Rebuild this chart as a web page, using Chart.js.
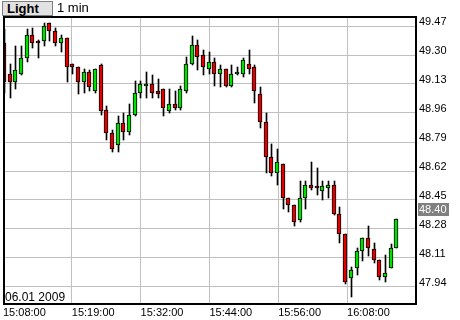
<!DOCTYPE html>
<html>
<head>
<meta charset="utf-8">
<script src="https://cdn.jsdelivr.net/npm/chart.js@4.4.1/dist/chart.umd.min.js"></script>
<style>
    body { margin: 0; background: #fff; }
    #quadro { position: relative; width: 460px; height: 320px; }
    #botao-tema {
        position: absolute; left: 2px; top: 1px; width: 51px; height: 15px;
        box-sizing: border-box; background: #e2e2e2; border: 1px solid #808080;
        font: bold 13px 'Liberation Sans', Arial, sans-serif; line-height: 13px;
        padding-left: 4px; color: #000;
    }
    #periodo {
        position: absolute; left: 57px; top: 1px;
        font: 13px 'Liberation Sans', Arial, sans-serif; line-height: 14px; color: #000;
    }
</style>
</head>
<body>
<div id="quadro">
    <canvas id="grafico" width="460" height="320"></canvas>
    <div id="botao-tema">Light</div>
    <div id="periodo">1 min</div>
</div>
<script>
// Dados do gráfico (velas de 1 minuto)
const rotulosTempo = ['15:08:00', '15:19:00', '15:32:00', '15:44:00', '15:56:00', '16:08:00'];
const ticksPreco = [47.94, 48.11, 48.28, 48.45, 48.62, 48.79, 48.96, 49.13, 49.30, 49.47];

const abertura = [
    49.37, 49.19, 49.14, 49.19, 49.28, 49.42, 49.37, 49.38, 49.49, 49.44,
    49.37, 49.40, 49.25, 49.23, 49.14, 49.20, 49.09, 49.24, 48.98, 48.84,
    48.77, 48.90, 48.85, 48.95, 49.08, 49.12, 49.13, 49.09, 49.10, 48.97,
    49.01, 48.99, 49.09, 49.25, 49.36, 49.30, 49.22, 49.26, 49.19, 49.22,
    49.12, 49.19, 49.19, 49.25, 49.23, 49.07, 48.91, 48.70, 48.61, 48.66,
    48.46, 48.42, 48.33, 48.46, 48.54, 48.53, 48.50, 48.52, 48.54, 48.37,
    48.25, 47.99, 48.05, 48.15, 48.23, 48.16, 48.10, 48.00, 48.05, 48.17
];
const maxima = [
    49.45, 49.25, 49.35, 49.35, 49.45, 49.46, 49.39, 49.49, 49.49, 49.46,
    49.42, 49.40, 49.25, 49.23, 49.22, 49.21, 49.22, 49.25, 49.00, 48.86,
    48.94, 48.96, 49.01, 49.15, 49.15, 49.20, 49.18, 49.16, 49.10, 49.10,
    49.09, 49.12, 49.29, 49.41, 49.39, 49.33, 49.32, 49.28, 49.24, 49.22,
    49.24, 49.23, 49.28, 49.33, 49.24, 49.11, 48.96, 48.78, 48.75, 48.66,
    48.46, 48.42, 48.56, 48.56, 48.67, 48.64, 48.56, 48.56, 48.56, 48.41,
    48.25, 48.06, 48.17, 48.23, 48.30, 48.20, 48.10, 48.13, 48.19, 48.34
];
const minima = [
    49.08, 49.05, 49.10, 49.18, 49.26, 49.34, 49.28, 49.35, 49.38, 49.35,
    49.32, 49.14, 49.19, 49.07, 49.08, 49.09, 49.08, 48.95, 48.80, 48.73,
    48.73, 48.80, 48.83, 48.94, 49.05, 49.05, 49.05, 49.05, 48.94, 48.96,
    48.98, 48.98, 49.08, 49.24, 49.21, 49.18, 49.19, 49.12, 49.11, 49.11,
    49.11, 49.18, 49.17, 49.19, 49.02, 48.87, 48.61, 48.59, 48.54, 48.40,
    48.38, 48.30, 48.32, 48.40, 48.51, 48.48, 48.45, 48.46, 48.36, 48.20,
    47.96, 47.88, 48.01, 48.09, 48.12, 48.08, 47.98, 47.97, 48.05, 48.17
];
const fechamento = [
    49.14, 49.14, 49.21, 49.28, 49.42, 49.37, 49.37, 49.47, 49.44, 49.37,
    49.40, 49.23, 49.23, 49.14, 49.20, 49.11, 49.22, 48.97, 48.84, 48.75,
    48.90, 48.85, 48.95, 49.08, 49.13, 49.13, 49.08, 49.07, 48.99, 49.01,
    48.99, 49.10, 49.25, 49.36, 49.29, 49.23, 49.26, 49.19, 49.22, 49.12,
    49.19, 49.20, 49.27, 49.22, 49.09, 48.91, 48.70, 48.61, 48.67, 48.46,
    48.42, 48.32, 48.46, 48.54, 48.52, 48.52, 48.53, 48.54, 48.37, 48.25,
    47.97, 48.04, 48.15, 48.23, 48.17, 48.10, 48.00, 48.02, 48.17, 48.34
];
const ultimoPreco = 48.40;
const dataSessao = '06.01 2009';

// Layout
const FONTE = "'Liberation Sans', Arial, sans-serif";
const PX_VELA = 5.7;          // largura de cada vela em pixels
const PASSO_GRADE = 12.1;     // velas entre linhas verticais
const PX_PRECO = 29 / 0.17;   // pixels por unidade de preço

// Montar datasets de velas (corpo + pavio)
const indices = abertura.map((_, i) => i);
const corpos = indices.map(i => ({ x: i, y: [abertura[i], fechamento[i]] }));
const pavios = indices.map(i => ({ x: i, y: [minima[i], maxima[i]] }));
const coresCorpo = indices.map(i => fechamento[i] > abertura[i] ? '#00e000' : '#e00000');

const xMin = -1 / PX_VELA;
const xMax = xMin + 414 / PX_VELA;
const yMax = ticksPreco[ticksPreco.length - 1] + 9 / PX_PRECO;
const yMin = ticksPreco[0] - 16 / PX_PRECO;

// Plugin: alinhar velas ao pixel, moldura, data e último preço
const pluginMoldura = {
    id: 'moldura',
    afterDatasetsUpdate: (chart) => {
        chart.data.datasets.forEach((ds, d) => {
            chart.getDatasetMeta(d).data.forEach(el => {
                el.x = Math.round(el.x) + (d === 1 ? 0.5 : 0);
                el.y = Math.round(el.y);
                el.base = Math.round(el.base);
            });
        });
    },
    afterDraw: (chart) => {
        const { ctx, chartArea: a } = chart;
        ctx.save();

        // Moldura preta
        ctx.strokeStyle = '#000';
        ctx.lineWidth = 2;
        ctx.strokeRect(a.left + 1, a.top, a.right - a.left - 1, a.bottom - a.top + 1);

        // Data da sessão
        ctx.fillStyle = '#000';
        ctx.font = '12px ' + FONTE;
        ctx.textBaseline = 'alphabetic';
        ctx.textAlign = 'left';
        ctx.fillText(dataSessao, a.left + 2, a.bottom - 2);

        // Caixa do último preço
        const y = Math.round(chart.scales.y.getPixelForValue(ultimoPreco));
        ctx.fillStyle = '#808080';
        ctx.fillRect(a.right + 2, y - 6, 31, 13);
        ctx.fillStyle = '#fff';
        ctx.font = '11px ' + FONTE;
        ctx.textBaseline = 'middle';
        ctx.fillText(ultimoPreco.toFixed(2), a.right + 3, y + 1);
        ctx.restore();
    }
};

const ctx = document.getElementById('grafico').getContext('2d');
window.graficoVelas = new Chart(ctx, {
    type: 'bar',
    data: {
        datasets: [{
            data: corpos,
            backgroundColor: coresCorpo,
            borderColor: '#000',
            borderWidth: 1,
            borderSkipped: false,
            barThickness: 4,
            minBarLength: 2,
            grouped: false,
            order: 0
        }, {
            data: pavios,
            backgroundColor: '#000',
            borderWidth: 0,
            barThickness: 1,
            grouped: false,
            order: 1
        }]
    },
    options: {
        responsive: false,
        animation: false,
        layout: { padding: { top: 17, left: 2, right: 0, bottom: 0 } },
        plugins: {
            legend: { display: false },
            tooltip: { enabled: false }
        },
        scales: {
            x: {
                type: 'linear',
                offset: false,
                min: xMin,
                max: xMax,
                afterBuildTicks: (s) => {
                    s.ticks = rotulosTempo.map((_, k) => ({ value: k * PASSO_GRADE + xMin }));
                },
                afterFit: (s) => { s.height = 17; },
                grid: { color: '#c0c0c0', lineWidth: 1, drawTicks: false, offset: false },
                border: { display: false },
                ticks: {
                    autoSkip: false,
                    maxRotation: 0,
                    align: 'start',
                    padding: 3,
                    color: '#000',
                    font: { family: FONTE, size: 11 },
                    callback: (v, i) => rotulosTempo[i]
                }
            },
            y: {
                position: 'right',
                min: yMin,
                max: yMax,
                afterBuildTicks: (s) => {
                    s.ticks = ticksPreco.map(v => ({ value: v }));
                },
                afterFit: (s) => { s.width = 44; },
                grid: { color: '#c0c0c0', lineWidth: 1, drawTicks: false },
                border: { display: false },
                ticks: {
                    padding: 3,
                    labelOffset: -4,
                    color: '#000',
                    font: { family: FONTE, size: 11 },
                    callback: (v) => v.toFixed(2)
                }
            }
        }
    },
    plugins: [pluginMoldura]
});
</script>
</body>
</html>
